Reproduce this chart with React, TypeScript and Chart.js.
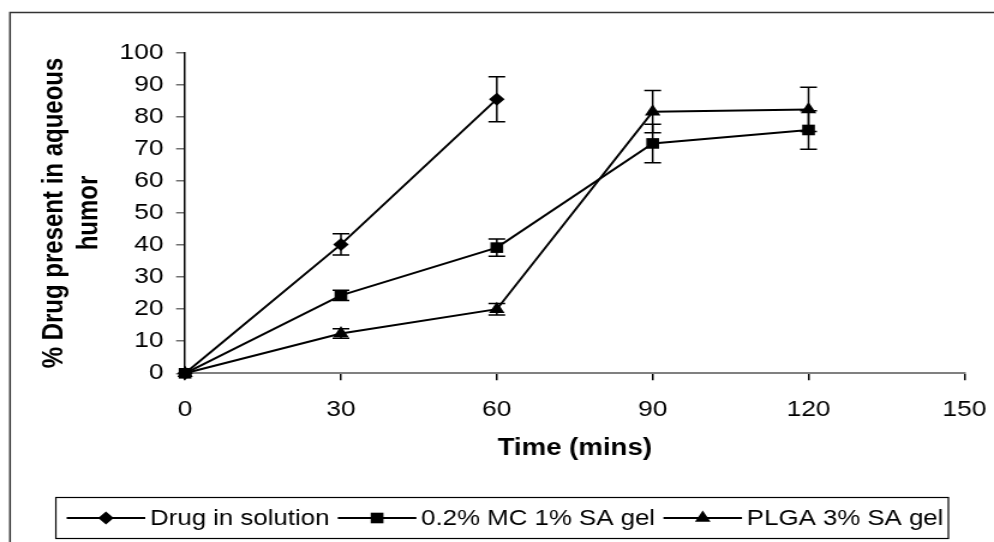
import React, { useEffect, useRef } from 'react';
import { Chart, registerables } from 'chart.js';

Chart.register(...registerables);

// ---- data ----
const timeMins = [0, 30, 60, 90, 120];
const drugSolution = [0, 40.2, 85.5];
const drugSolutionErr = [0, 3.3, 7];
const mcGel = [0, 24.3, 39.2, 71.7, 75.9];
const mcGelErr = [0, 1.6, 2.7, 6, 6];
const plgaGel = [0, 12.4, 20, 81.6, 82.3];
const plgaGelErr = [0, 1.5, 1.8, 6.6, 6.9];
const seriesNames = ['Drug in solution', '0.2% MC 1% SA gel', 'PLGA 3% SA gel'];
const xTicks = [0, 30, 60, 90, 120, 150];
const yTicks = [0, 10, 20, 30, 40, 50, 60, 70, 80, 90, 100];
const xTitle = 'Time (mins)';
const yTitleLines = ['% Drug present in aqueous', 'humor'];

// ---- layout (image is horizontally stretched) ----
const SX = 1.2;
const W = Math.round(994 / SX);
const H = 542;
const FONT = '"Liberation Sans", Arial, Helvetica, sans-serif';
const styles = ['rectRot', 'rect', 'triangle'];
const radii = [6.5, 7.5, 7.5];
const errSets = [drugSolutionErr, mcGelErr, plgaGelErr];
const valSets = [drugSolution, mcGel, plgaGel];
const CAP = 7;

function drawMarker(ctx: CanvasRenderingContext2D, style: string, x: number, y: number, r: number) {
  ctx.beginPath();
  if (style === 'rectRot') {
    ctx.moveTo(x, y - r); ctx.lineTo(x + r, y); ctx.lineTo(x, y + r); ctx.lineTo(x - r, y);
  } else if (style === 'rect') {
    const s = r * Math.SQRT1_2;
    ctx.rect(x - s, y - s, 2 * s, 2 * s);
  } else {
    const a = Math.PI * 2 / 3;
    ctx.moveTo(x, y - r);
    ctx.lineTo(x + Math.sin(a) * r, y - Math.cos(a) * r);
    ctx.lineTo(x + Math.sin(2 * a) * r, y - Math.cos(2 * a) * r);
  }
  ctx.closePath();
  ctx.fill();
}

const decor = {
  id: 'decor',
  afterDatasetsDraw(chart: any) {
    const ctx = chart.ctx as CanvasRenderingContext2D;
    const ys = chart.scales.y;
    ctx.save();
    ctx.strokeStyle = '#000';
    ctx.lineWidth = 1.5;
    chart.data.datasets.forEach((ds: any, i: number) => {
      const meta = chart.getDatasetMeta(i);
      const errs = errSets[i];
      meta.data.forEach((pt: any, j: number) => {
        const e = errs[j];
        if (!e) return;
        const v = ds.data[j].y;
        const yt = ys.getPixelForValue(v + e);
        const yb = ys.getPixelForValue(v - e);
        ctx.beginPath();
        ctx.moveTo(pt.x, yt); ctx.lineTo(pt.x, yb);
        ctx.moveTo(pt.x - CAP, yt); ctx.lineTo(pt.x + CAP, yt);
        ctx.moveTo(pt.x - CAP, yb); ctx.lineTo(pt.x + CAP, yb);
        ctx.stroke();
      });
    });
    ctx.restore();
  },
  afterDraw(chart: any) {
    const ctx = chart.ctx as CanvasRenderingContext2D;
    const area = chart.chartArea;
    ctx.save();
    // outer frame
    ctx.strokeStyle = '#333';
    ctx.lineWidth = 1.5;
    ctx.beginPath();
    ctx.moveTo(10 / SX, H + 5);
    ctx.lineTo(10 / SX, 12.5);
    ctx.lineTo(W + 5, 12.5);
    ctx.stroke();

    ctx.fillStyle = '#000';
    // y title
    ctx.font = `bold 24px ${FONT}`;
    ctx.textAlign = 'center';
    ctx.textBaseline = 'middle';
    const cy = (area.top + area.bottom) / 2;
    const lx = [55 / SX, 89 / SX];
    yTitleLines.forEach((t, i) => {
      ctx.save();
      ctx.translate(lx[i], cy);
      ctx.rotate(-Math.PI / 2);
      ctx.fillText(t, 0, 0);
      ctx.restore();
    });
    // x title
    ctx.font = `bold 23px ${FONT}`;
    ctx.fillText(xTitle, (area.left + area.right) / 2, 449);

    // legend
    ctx.font = `21.5px ${FONT}`;
    const widths = seriesNames.map((s) => ctx.measureText(s).width);
    const tStart = 150 / SX;
    const tEnd = 943 / SX;
    const sep = (tEnd - tStart - widths.reduce((a, b) => a + b, 0)) / 2;
    const gapA = 7;
    const gapB = 4;
    const lineLen = sep - gapA - gapB;
    const boxTop = 497.5, boxBot = 538.5;
    const ly = (boxTop + boxBot) / 2;
    let tx = tStart;
    const firstLine = tStart - gapB - lineLen;
    ctx.strokeStyle = '#000';
    ctx.lineWidth = 1.2;
    ctx.strokeRect(firstLine - 9, boxTop, 948 / SX - (firstLine - 9), boxBot - boxTop);
    ctx.textAlign = 'left';
    seriesNames.forEach((name, i) => {
      const l1 = tx - gapB - lineLen;
      ctx.lineWidth = 2;
      ctx.beginPath();
      ctx.moveTo(l1, ly); ctx.lineTo(l1 + lineLen, ly);
      ctx.stroke();
      drawMarker(ctx, styles[i], l1 + lineLen / 2, ly, radii[i]);
      ctx.fillText(name, tx, ly + 1);
      tx += widths[i] + gapA + lineLen + gapB;
    });
    ctx.restore();
  },
};

export default function App() {
  const ref = useRef<HTMLCanvasElement>(null);
  useEffect(() => {
    document.body.style.margin = '0';
    const canvas = ref.current!;
    const datasets = valSets.map((vals, i) => ({
      label: seriesNames[i],
      data: vals.map((v, j) => ({ x: timeMins[j], y: v })),
      borderColor: '#000',
      backgroundColor: '#000',
      borderWidth: 2,
      pointStyle: styles[i],
      pointRadius: radii[i],
      pointBackgroundColor: '#000',
      pointBorderColor: '#000',
      pointBorderWidth: 0,
      showLine: true,
      tension: 0,
      clip: false,
      order: i === 1 ? 0 : i + 1,
    }));
    const chart = new Chart(canvas, {
      type: 'scatter',
      data: { datasets },
      plugins: [decor],
      options: {
        responsive: false,
        animation: false,
        devicePixelRatio: 1,
        layout: { padding: { left: 0, right: W - 964 / SX, top: 52.7, bottom: H - 373.3 - 50 } },
        plugins: { legend: { display: false }, tooltip: { enabled: false }, title: { display: false } },
        scales: {
          x: {
            type: 'linear',
            min: 0,
            max: 150,
            afterBuildTicks: (s: any) => { s.ticks = xTicks.map((v) => ({ value: v })); },
            afterFit: (s: any) => { s.height = 50; s.paddingLeft = 0; s.paddingRight = 0; },
            grid: { drawOnChartArea: false, drawTicks: true, tickLength: 7, color: '#000', lineWidth: 1.5 },
            border: { color: '#808080', width: 2 },
            ticks: { color: '#000', font: { family: FONT, size: 22 }, padding: 16, maxRotation: 0, autoSkip: false },
          },
          y: {
            type: 'linear',
            min: 0,
            max: 100,
            afterBuildTicks: (s: any) => { s.ticks = yTicks.map((v) => ({ value: v })); },
            afterFit: (s: any) => { s.width = 185 / SX; s.paddingTop = 0; s.paddingBottom = 0; },
            grid: { drawOnChartArea: false, drawTicks: true, tickLength: 7.5, color: '#707070', lineWidth: 1.5 },
            border: { color: '#000', width: 1.5 },
            ticks: { color: '#000', font: { family: FONT, size: 22 }, padding: 10.5, autoSkip: false },
          },
        },
      },
    } as any);
    return () => chart.destroy();
  }, []);
  return (
    <canvas
      ref={ref}
      width={W}
      height={H}
      style={{ display: 'block', width: '994px', height: `${H}px` }}
    />
  );
}
